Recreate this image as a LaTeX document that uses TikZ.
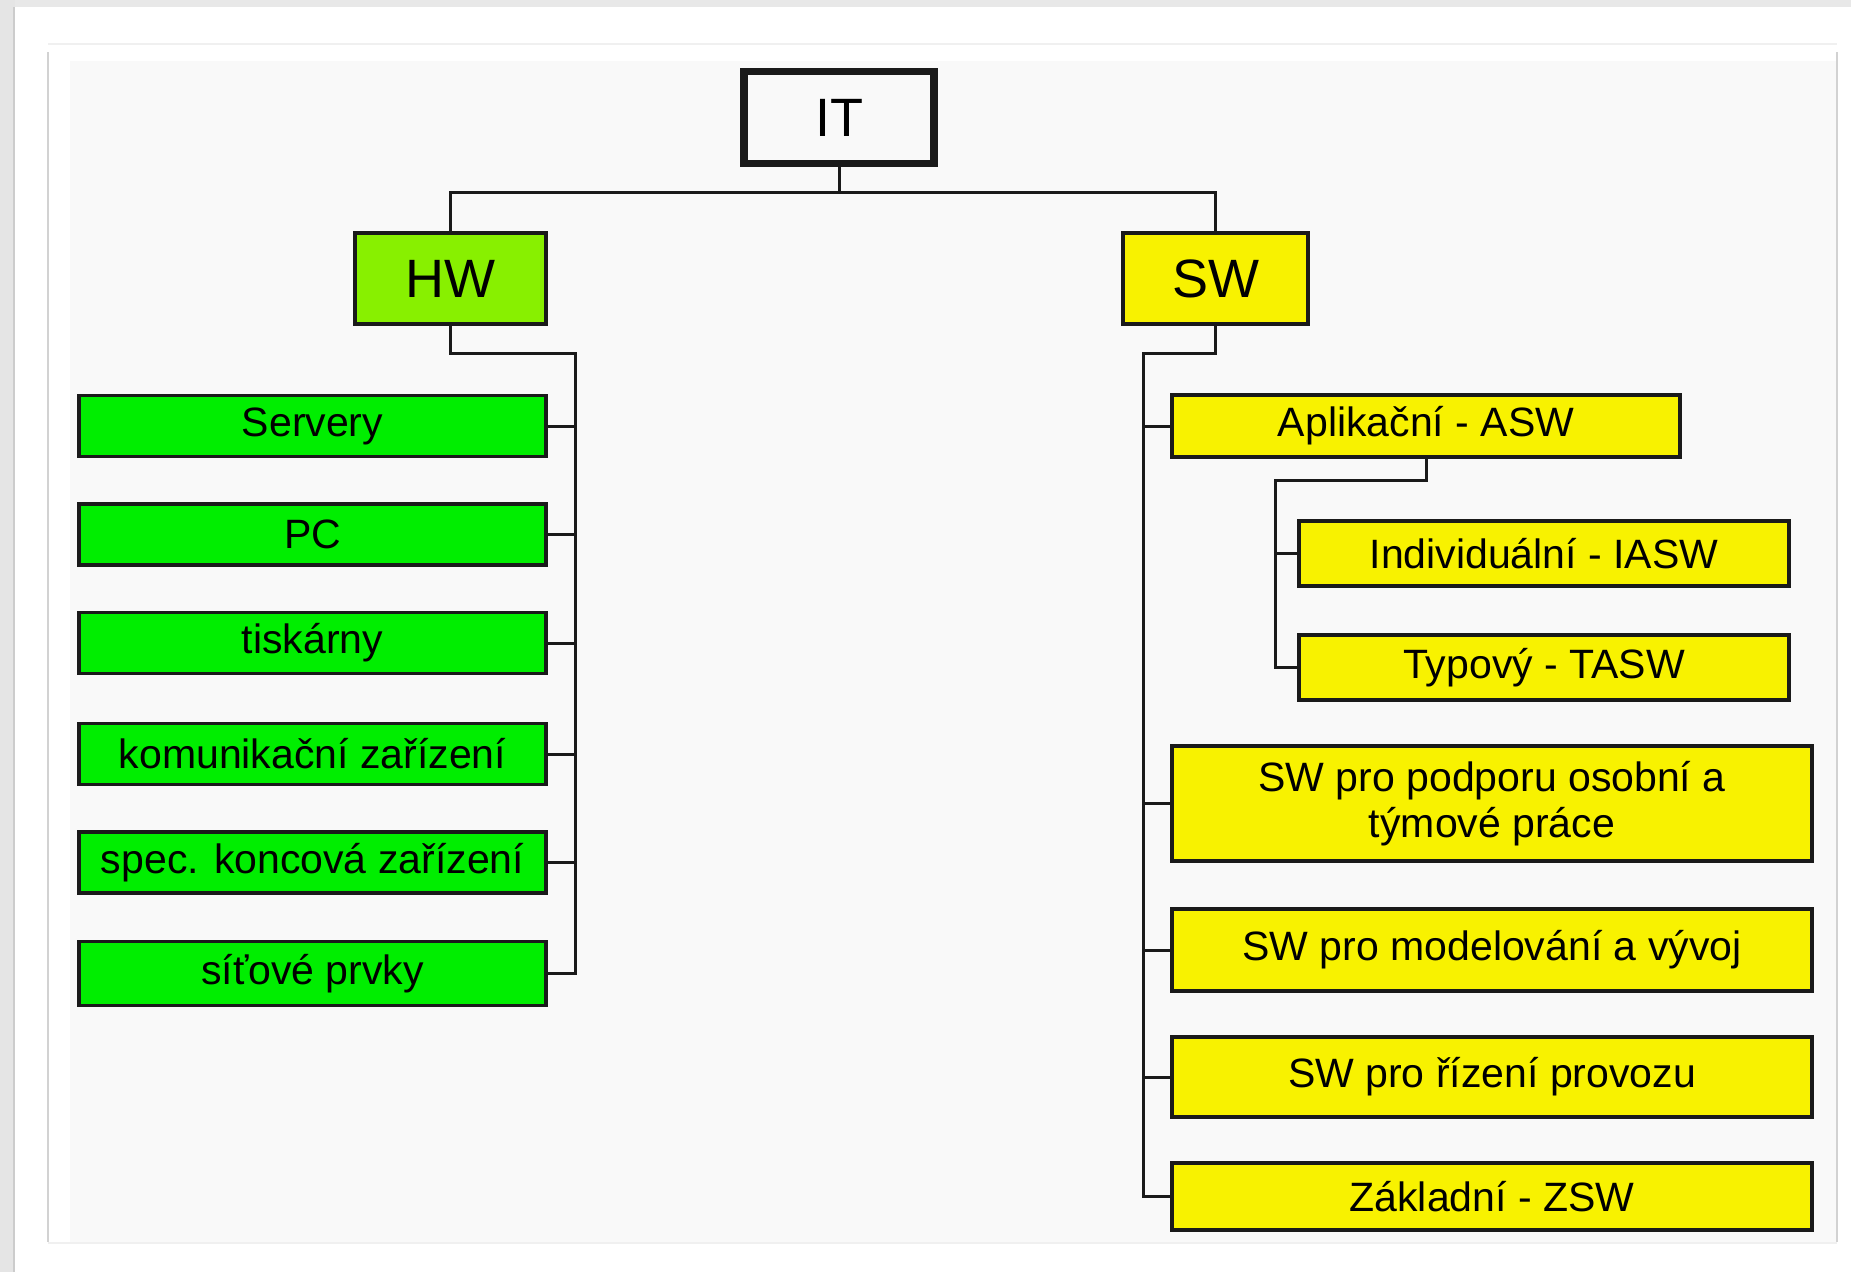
\documentclass[tikz,border=0pt]{standalone}
\usepackage{fontspec}
\setmainfont{Liberation Sans}
\definecolor{leafgreen}{HTML}{00EE00}
\definecolor{hwgreen}{HTML}{88F000}
\definecolor{swyellow}{HTML}{F8F200}
\definecolor{diagbg}{HTML}{F9F9F9}
\definecolor{edge}{HTML}{1A1A1A}
\tikzset{
  box/.style={rectangle, draw=edge, line width=3.5pt, inner sep=0pt, align=center,
    font=\fontsize{41}{46}\selectfont},
  topbox/.style={box, font=\fontsize{54}{60}\selectfont},
  leaf/.style={box, fill=leafgreen, minimum width=467pt, minimum height=61pt},
  swleaf/.style={box, fill=swyellow, minimum width=640pt},
  conn/.style={draw=edge, line width=3pt}
}
\begin{document}
\begin{tikzpicture}[x=1pt,y=-1pt]
\useasboundingbox (0,0) rectangle (1851,1272);
% page background
\fill[white] (0,0) rectangle (1851,1272);
\fill[gray!18] (0,0) rectangle (1851,7);
\fill[gray!20] (0,0) rectangle (15,1272);
\fill[gray!40] (12.5,7) rectangle (15,1272);
% panel
\draw[gray!12, line width=1.5pt] (48,44) -- (1837,44);
\draw[gray!12, line width=1.5pt] (48,1243) -- (1837,1243);
\draw[gray!35, line width=2pt] (48,52) -- (48,1242);
\draw[gray!35, line width=2pt] (1837,52) -- (1837,1242);
\fill[diagbg] (70,61) rectangle (1836,1242);

% junction points
\coordinate (itj) at (839,192);
\coordinate (hwbus) at (575,353);
\coordinate (swbus) at (1143,353);
\coordinate (aplbus) at (1275,480);

% nodes
\node[topbox, fill=diagbg, line width=7.5pt, minimum width=190pt, minimum height=92pt] (it) at (839,117.5) {IT};
\node[topbox, fill=hwgreen, minimum width=191pt, minimum height=91pt] (hw) at (450.5,278.5) {HW};
\node[topbox, fill=swyellow, minimum width=185pt, minimum height=91pt] (sw) at (1215.5,278.5) {SW};

\node[leaf] (ser) at (312.5,426) {Servery};
\node[leaf] (pc) at (312.5,534.5) {PC};
\node[leaf] (tis) at (312.5,643) {tiskárny};
\node[leaf] (kom) at (312.5,754) {komunikační zařízení};
\node[leaf] (spe) at (312.5,862.5) {spec. koncová zařízení};
\node[leaf, minimum height=64pt] (sit) at (312.5,973.5) {síťové prvky};

\node[box, fill=swyellow, minimum width=508pt, minimum height=62pt] (apl) at (1426,426) {Aplikační - ASW};
\node[box, fill=swyellow, minimum width=490pt, minimum height=65pt] (ind) at (1544,553.5) {Individuální - IASW};
\node[box, fill=swyellow, minimum width=490pt, minimum height=65pt] (typ) at (1544,667.5) {Typový - TASW};
\node[swleaf, minimum height=115pt] (pod) at (1492,803.5) {SW pro podporu osobní a\\týmové práce};
\node[swleaf, minimum height=82pt] (mod) at (1492,950) {SW pro modelování a vývoj};
\node[swleaf, minimum height=80pt] (riz) at (1492,1077) {SW pro řízení provozu};
\node[swleaf, minimum height=67pt] (zak) at (1492,1196.5) {Základní - ZSW};

% connectors
\path[conn] (it.south) -- (itj);
\path[conn] (hw.north) |- (itj) -| (sw.north);
\path[conn] (hw.south) |- (hwbus) |- (sit.east);
\foreach \n in {ser,pc,tis,kom,spe} {
  \path[conn] (\n.east) -- (\n.east -| hwbus);
}
\path[conn] (sw.south) |- (swbus) |- (zak.west);
\foreach \n in {apl,pod,mod,riz} {
  \path[conn] (\n.west) -- (\n.west -| swbus);
}
\path[conn] (apl.south) |- (aplbus) |- (typ.west);
\path[conn] (ind.west) -- (ind.west -| aplbus);
\end{tikzpicture}
\end{document}
